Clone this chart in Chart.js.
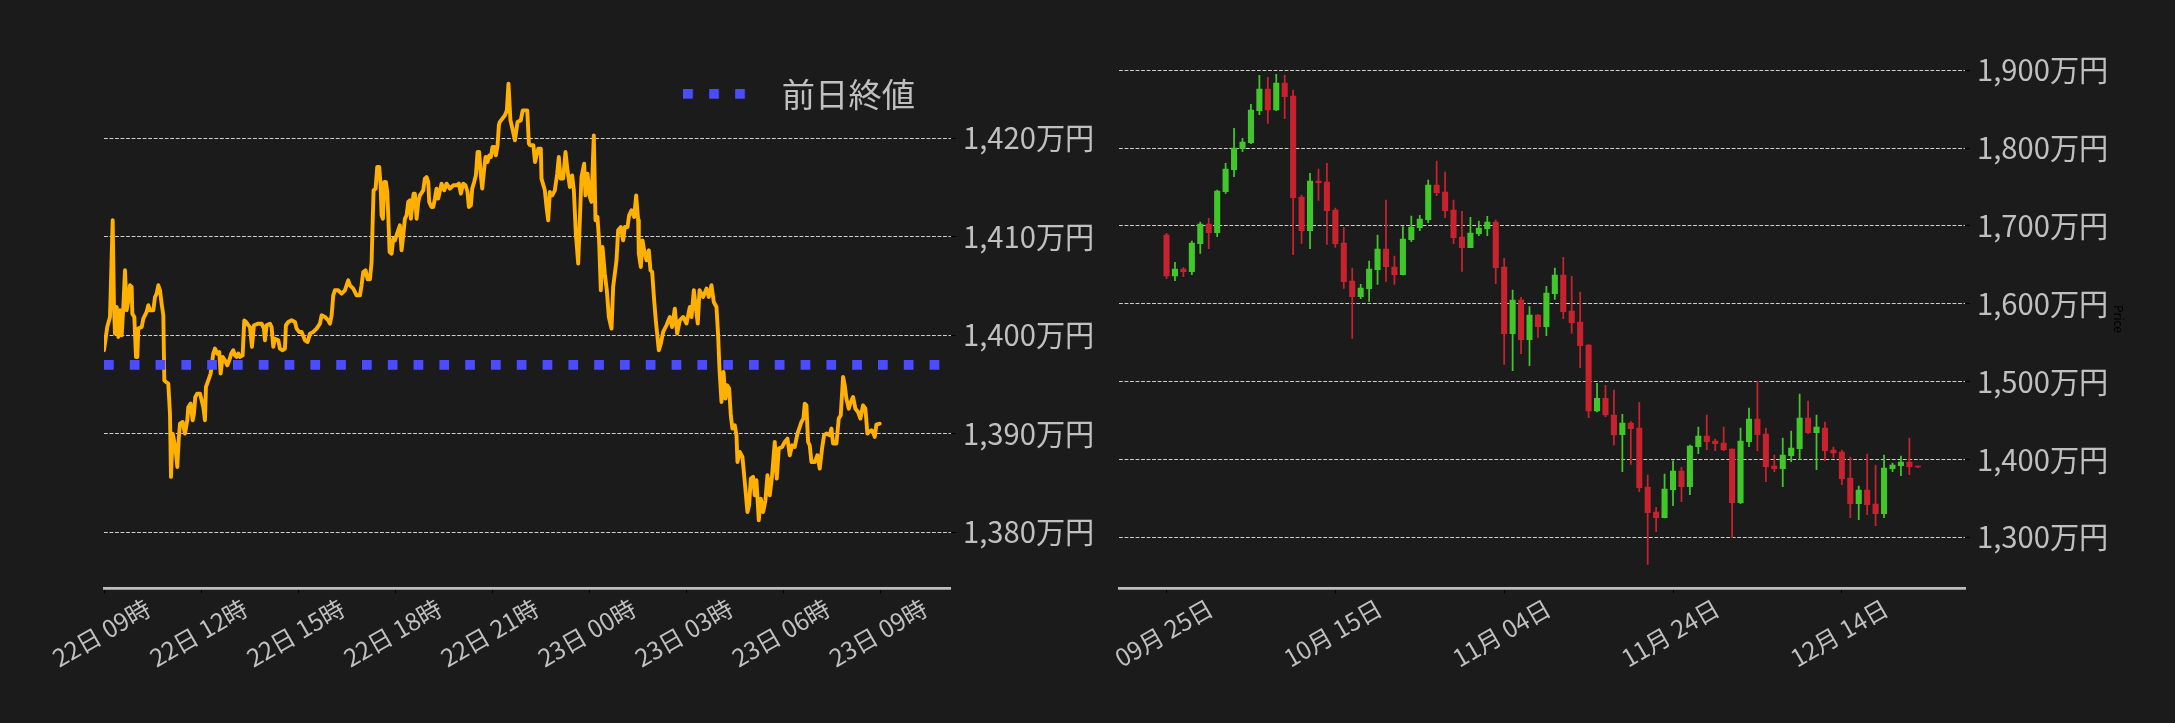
<!DOCTYPE html>
<html><head><meta charset="utf-8">
<script src="https://cdn.jsdelivr.net/npm/chart.js@4"></script>
<style>
html,body{margin:0;padding:0;background:#1b1b1b;overflow:hidden;}
#wrap{position:relative;width:2175px;height:723px;background:#1b1b1b;}
#left{position:absolute;left:0;top:0;}
#right{position:absolute;left:1100px;top:0;}
</style></head><body>
<div id="wrap"><canvas id="left" width="1100" height="723"></canvas><canvas id="right" width="1075" height="723"></canvas></div>
<script>
// ---------- intraday data (hours after 22日 09:00, price in 万円) ----------
const hours = [0.000,0.100,0.185,0.268,0.309,0.340,0.392,0.443,0.494,0.546,0.597,0.649,0.700,0.752,0.803,0.855,0.875,0.937,0.989,1.030,1.060,1.164,1.215,1.318,1.370,1.421,1.524,1.576,1.627,1.679,1.730,1.781,1.833,1.864,1.915,1.987,2.039,2.070,2.122,2.163,2.224,2.266,2.307,2.348,2.431,2.502,2.574,2.605,2.677,2.739,2.780,2.821,2.883,2.966,3.017,3.069,3.120,3.151,3.223,3.295,3.377,3.429,3.500,3.562,3.604,3.666,3.738,3.810,3.872,3.933,3.995,4.047,4.098,4.150,4.201,4.284,4.335,4.387,4.459,4.510,4.572,4.634,4.768,4.871,4.943,4.974,5.025,5.128,5.180,5.231,5.283,5.386,5.437,5.520,5.592,5.622,5.694,5.797,5.901,5.952,6.035,6.107,6.210,6.292,6.364,6.467,6.570,6.673,6.725,6.827,6.930,6.982,7.034,7.085,7.136,7.239,7.342,7.445,7.548,7.600,7.703,7.806,7.909,7.960,8.012,8.084,8.146,8.218,8.270,8.300,8.331,8.393,8.444,8.506,8.547,8.578,8.619,8.660,8.712,8.753,8.784,8.826,8.888,8.939,8.990,9.073,9.144,9.196,9.248,9.299,9.351,9.402,9.453,9.484,9.526,9.567,9.608,9.660,9.711,9.762,9.865,9.917,9.968,10.020,10.050,10.120,10.175,10.226,10.277,10.328,10.432,10.514,10.586,10.689,10.792,10.895,10.967,11.029,11.100,11.172,11.234,11.276,11.338,11.379,11.440,11.492,11.544,11.595,11.636,11.688,11.750,11.791,11.853,11.904,11.956,12.007,12.058,12.110,12.162,12.203,12.230,12.390,12.450,12.500,12.560,12.610,12.700,12.780,12.880,12.940,13.080,13.130,13.170,13.270,13.320,13.420,13.500,13.520,13.624,13.676,13.727,13.779,13.851,13.933,14.005,14.056,14.108,14.190,14.262,14.324,14.396,14.468,14.520,14.582,14.654,14.705,14.756,14.839,14.880,14.942,15.014,15.065,15.137,15.189,15.251,15.302,15.354,15.405,15.477,15.539,15.601,15.684,15.735,15.786,15.838,15.889,15.972,16.044,16.095,16.178,16.229,16.301,16.384,16.446,16.508,16.528,16.590,16.642,16.693,16.765,16.837,16.889,16.940,17.002,17.053,17.094,17.146,17.208,17.280,17.383,17.486,17.558,17.640,17.712,17.795,17.898,18.001,18.104,18.156,18.228,18.310,18.350,18.403,18.514,18.619,18.690,18.773,18.844,18.928,18.979,19.020,19.083,19.145,19.206,19.258,19.320,19.370,19.420,19.494,19.546,19.576,19.648,19.730,19.802,19.885,19.936,19.988,20.060,20.111,20.163,20.235,20.297,20.369,20.441,20.503,20.575,20.647,20.729,20.791,20.853,20.956,21.038,21.121,21.193,21.265,21.347,21.430,21.502,21.553,21.615,21.656,21.707,21.759,21.810,21.862,21.965,22.047,22.119,22.191,22.253,22.326,22.428,22.480,22.531,22.634,22.706,22.768,22.840,22.892,22.943,23.015,23.077,23.148,23.221,23.303,23.376,23.457,23.530,23.592,23.642,23.715,23.766,23.818,23.870,23.972];
const prices = [1398.48,1400.84,1401.86,1411.68,1402.87,1400.17,1402.87,1399.83,1402.54,1400.00,1402.87,1406.60,1402.54,1403.55,1405.08,1404.91,1402.20,1401.86,1397.80,1397.80,1400.68,1400.84,1401.69,1402.37,1403.05,1402.54,1402.54,1403.89,1404.23,1405.08,1404.57,1403.21,1402.03,1395.43,1395.26,1395.09,1392.05,1385.62,1390.02,1389.34,1387.99,1386.63,1389.34,1391.03,1391.20,1390.02,1391.37,1392.72,1393.06,1391.37,1392.05,1393.74,1394.08,1394.08,1393.40,1392.72,1391.37,1394.75,1395.43,1396.11,1398.14,1398.65,1398.14,1398.31,1396.11,1397.80,1397.46,1396.95,1397.46,1398.14,1398.48,1397.97,1397.80,1398.14,1397.80,1397.97,1401.52,1401.35,1401.02,1400.84,1398.82,1401.02,1401.18,1401.18,1400.68,1399.49,1401.02,1401.18,1400.84,1398.82,1399.66,1399.49,1398.65,1398.48,1398.65,1401.02,1401.35,1401.52,1401.35,1400.68,1400.34,1400.34,1399.49,1399.32,1400.17,1400.34,1400.68,1401.18,1402.03,1401.86,1401.52,1401.18,1402.03,1404.06,1404.57,1404.57,1404.23,1404.57,1405.58,1405.08,1404.74,1404.06,1404.06,1405.08,1406.43,1406.60,1405.69,1405.69,1407.44,1411.17,1414.72,1414.89,1417.09,1417.09,1415.23,1412.18,1411.84,1415.57,1415.57,1414.55,1412.18,1408.46,1408.29,1409.81,1409.64,1410.49,1411.17,1408.63,1410.15,1411.84,1412.18,1413.54,1413.71,1411.84,1413.20,1414.38,1414.38,1411.84,1413.54,1414.21,1414.72,1415.91,1416.07,1415.57,1413.54,1413.03,1413.03,1413.88,1414.89,1413.88,1415.40,1414.72,1415.40,1414.89,1415.23,1415.23,1415.40,1414.38,1415.40,1415.23,1414.55,1413.03,1413.20,1414.89,1415.57,1416.24,1418.61,1418.61,1416.58,1414.89,1416.92,1418.10,1417.60,1418.27,1418.10,1419.12,1419.12,1418.27,1419.29,1421.32,1421.65,1422.34,1422.84,1425.55,1421.83,1421.15,1419.80,1421.65,1421.83,1422.84,1422.84,1419.46,1419.29,1419.29,1417.60,1418.95,1418.95,1415.91,1414.72,1413.03,1411.68,1414.55,1414.21,1414.72,1416.41,1418.10,1415.91,1415.91,1418.61,1416.75,1415.06,1416.24,1414.72,1410.32,1407.28,1411.68,1416.07,1417.43,1414.21,1416.41,1414.04,1413.54,1420.30,1411.68,1412.01,1409.47,1404.57,1408.96,1406.26,1404.57,1401.86,1400.68,1404.91,1406.26,1407.61,1410.66,1410.99,1409.64,1410.99,1410.99,1412.18,1412.69,1412.01,1414.21,1411.68,1408.29,1406.94,1409.64,1408.63,1407.61,1408.63,1406.60,1406.43,1403.55,1401.52,1400.17,1398.48,1399.15,1400.34,1401.02,1401.86,1400.84,1402.71,1400.17,1401.52,1401.86,1401.19,1402.87,1401.86,1404.57,1402.20,1401.19,1404.57,1403.89,1404.74,1403.89,1405.08,1403.38,1402.87,1400.00,1396.62,1393.23,1396.28,1393.57,1394.92,1394.59,1391.88,1390.53,1390.86,1389.85,1387.14,1388.15,1387.64,1385.11,1382.06,1382.74,1385.45,1385.62,1383.76,1385.28,1381.22,1383.42,1382.06,1383.25,1385.79,1383.76,1385.79,1389.17,1385.45,1388.50,1388.66,1389.17,1389.51,1387.82,1388.83,1388.66,1390.02,1390.69,1391.20,1391.54,1393.06,1392.89,1389.17,1388.83,1387.14,1387.14,1387.82,1386.47,1388.50,1389.85,1390.02,1389.85,1390.53,1389.00,1389.00,1391.54,1391.88,1395.77,1394.92,1393.57,1392.55,1393.23,1393.74,1392.55,1392.21,1391.54,1392.89,1392.55,1390.02,1390.19,1390.36,1390.19,1389.68,1390.93,1391.03];
const prevClose = 1397.0;
const timeTickHours = [0, 3, 6, 9, 12, 15, 18, 21, 24];
const timeTickLabels = ['22日 09時','22日 12時','22日 15時','22日 18時','22日 21時','23日 00時','23日 03時','23日 06時','23日 09時'];
const leftPriceTicks = [1380, 1390, 1400, 1410, 1420];

// ---------- daily candles (index 0 = 09月25日), 万円 ----------
const opens  = [1688.4,1635.7,1644.7,1641.3,1677.3,1702.5,1691.4,1744.1,1772.3,1799.3,1807.0,1848.1,1876.0,1849.0,1883.7,1867.0,1737.2,1694.0,1757.8,1756.5,1720.5,1678.1,1629.3,1609.2,1619.4,1643.8,1670.4,1647.3,1637.4,1682.4,1697.8,1708.1,1752.6,1743.6,1720.5,1685.8,1672.1,1690.1,1696.5,1705.1,1647.3,1561.6,1604.9,1553.9,1585.6,1570.6,1613.0,1637.0,1590.7,1576.6,1547.0,1462.3,1478.6,1457.1,1431.9,1446.8,1440.4,1364.6,1332.5,1325.2,1361.2,1385.2,1365.0,1416.4,1430.1,1423.7,1421.1,1413.4,1344.5,1422.9,1452.0,1432.7,1391.6,1388.2,1404.9,1413.9,1453.3,1434.4,1440.4,1412.1,1409.6,1376.2,1343.2,1360.8,1342.8,1330.3,1388.2,1392.0,1396.7,1391.6];
const highs  = [1690.5,1653.3,1646.4,1680.7,1705.1,1709.8,1746.2,1780.5,1825.4,1812.6,1856.3,1893.5,1891.0,1894.8,1893.5,1874.7,1739.8,1767.6,1773.2,1780.5,1723.1,1697.8,1646.0,1625.0,1655.0,1688.4,1733.4,1661.4,1699.1,1712.8,1713.7,1759.1,1783.5,1769.3,1733.4,1718.8,1711.1,1706.4,1712.4,1707.7,1658.4,1617.7,1608.3,1596.3,1586.0,1622.4,1646.0,1659.7,1635.3,1615.2,1547.5,1497.8,1495.3,1489.2,1458.0,1448.6,1473.4,1380.0,1338.5,1381.3,1398.4,1389.9,1418.6,1441.7,1457.1,1426.3,1441.7,1413.6,1440.4,1466.1,1500.4,1440.4,1405.7,1427.6,1436.6,1484.0,1475.1,1457.1,1448.1,1416.0,1412.2,1403.2,1365.9,1407.0,1392.9,1405.7,1395.4,1404.4,1427.6,1391.6];
const lows   = [1632.3,1629.7,1634.9,1637.4,1664.8,1670.8,1686.2,1741.9,1763.3,1795.5,1805.7,1843.0,1831.9,1848.0,1837.9,1663.1,1677.7,1670.8,1732.9,1676.4,1672.5,1619.9,1555.6,1606.6,1603.2,1625.0,1628.9,1625.0,1637.0,1679.8,1694.0,1704.2,1738.9,1710.7,1677.3,1641.7,1672.1,1687.5,1687.5,1625.9,1522.2,1514.1,1535.9,1520.5,1556.9,1559.0,1605.7,1580.9,1562.0,1517.9,1453.6,1461.0,1454.9,1418.6,1384.3,1393.7,1358.6,1265.3,1307.2,1325.0,1340.6,1345.8,1354.8,1407.4,1412.6,1411.3,1411.3,1299.5,1343.2,1416.4,1411.3,1371.5,1384.3,1365.0,1397.2,1400.2,1433.1,1386.9,1398.4,1402.3,1367.6,1325.2,1322.6,1329.1,1314.9,1325.2,1384.3,1379.2,1380.5,1389.4];
const closes = [1635.7,1644.7,1641.3,1678.1,1702.5,1691.4,1744.9,1773.2,1800.2,1807.9,1849.0,1876.0,1849.0,1883.7,1866.1,1736.4,1694.0,1757.8,1755.6,1719.6,1677.3,1628.4,1609.2,1620.3,1644.7,1670.4,1647.7,1637.4,1683.3,1698.7,1708.9,1752.6,1742.8,1719.6,1685.0,1672.1,1691.0,1697.4,1705.1,1646.4,1561.6,1604.9,1553.9,1585.6,1570.6,1613.9,1637.0,1589.9,1575.8,1546.2,1462.3,1478.6,1457.1,1431.4,1446.8,1439.6,1363.8,1331.6,1325.2,1362.0,1385.2,1365.0,1417.3,1430.1,1422.9,1420.3,1412.6,1344.5,1423.7,1452.0,1431.9,1390.7,1388.2,1405.7,1414.7,1453.3,1434.4,1441.7,1411.3,1408.3,1375.3,1343.2,1360.8,1341.9,1330.3,1389.0,1392.9,1396.7,1390.7,1390.3];
const dayTickIndex  = [0, 20, 40, 60, 80];
const dayTickLabels = ['09月 25日','10月 15日','11月 04日','11月 24日','12月 14日'];
const rightPriceTicks = [1300, 1400, 1500, 1600, 1700, 1800, 1900];

// ---------- styles ----------
const TEXT = '#c0c0c0', GRID = '#cfcfcf', AXIS = '#bebebe';
const ORANGE = '#ffb000', BLUE = '#4b4bff', GREEN = '#40c82a', RED = '#c9222f';
Chart.defaults.font.family = '"Noto Sans CJK JP", "Noto Sans", sans-serif';
const fmtPrice = v => Number(v).toLocaleString('en-US') + '万円';

// legend handle: three square dots
const legendImg = document.createElement('canvas');
legendImg.width = 82; legendImg.height = 10;
(() => { const g = legendImg.getContext('2d'); g.fillStyle = BLUE; [0, 26, 52].forEach(x0 => g.fillRect(x0, 0, 9.7, 9.7)); })();

// let the legend (which takes ~no layout space) draw inside the plot area
const legendInside = { id: 'legendInside', afterLayout(chart) {
  const lg = chart.legend; if (lg) { lg.bottom = lg.top + 120; lg.height = 120; } } };

const xAxisCommon = (height, labels) => ({
  type: 'linear', offset: false,
  afterFit: s => { s.height = height; s.paddingLeft = 0; s.paddingRight = 0; },
  ticks: { autoSkip: false, minRotation: 30, maxRotation: 30, padding: 0, labelOffset: 44.2, color: TEXT, font: { size: 24.3 },
    callback: (v, i) => labels[i] },
  grid: { display: true, offset: false, drawOnChartArea: false, drawTicks: true, tickLength: 5, tickColor: '#000' },
  border: { display: true, color: AXIS, width: 2.7 }
});
const yAxisCommon = (width, pad) => ({
  type: 'linear', position: 'right', beginAtZero: false,
  afterFit: s => { s.width = width; s.paddingTop = 0; s.paddingBottom = 0; },
  ticks: { padding: pad, color: TEXT, font: { size: 29.2 }, callback: v => fmtPrice(v) },
  grid: { color: GRID, lineWidth: 1, drawTicks: true, tickLength: 5, tickColor: '#000' },
  border: { display: false, dash: [3.85, 1.67] }
});

// ---------- left: intraday line ----------
const X_MAX_H = 26.16;
new Chart(document.getElementById('left'), {
  type: 'line',
  data: { datasets: [
    { label: '前日終値', data: [{ x: 0, y: prevClose }, { x: X_MAX_H, y: prevClose }],
      borderColor: BLUE, backgroundColor: BLUE, borderWidth: 9.7, borderDash: [9.7, 16.1], borderCapStyle: 'butt', pointRadius: 0, fill: false },
    { label: '価格', data: hours.map((h, i) => ({ x: h, y: prices[i] })),
      borderColor: ORANGE, borderWidth: 3.9, pointRadius: 0, borderJoinStyle: 'round', borderCapStyle: 'round', tension: 0, fill: false }
  ]},
  options: {
    responsive: false, animation: false, events: [],
    layout: { padding: { left: 104, top: 41.85, right: 0, bottom: 0 } },
    plugins: {
      tooltip: { enabled: false },
      legend: { display: true, position: 'top', align: 'end', fullSize: false, maxHeight: 7.65,
        labels: { usePointStyle: true, pointStyleWidth: 82, padding: 35.5, color: TEXT, font: { size: 33.3 },
          generateLabels: chart => Chart.defaults.plugins.legend.labels.generateLabels(chart)
            .filter(l => l.datasetIndex === 0).map(l => Object.assign(l, { pointStyle: legendImg })) } }
    },
    scales: {
      x: Object.assign(xAxisCommon(134.7, timeTickLabels), { min: 0, max: X_MAX_H,
        afterBuildTicks: s => { s.ticks = timeTickHours.map(v => ({ value: v })); } }),
      y: Object.assign(yAxisCommon(149.5, 7.5), { min: 1374.31, max: 1429.02,
        afterBuildTicks: s => { s.ticks = leftPriceTicks.map(v => ({ value: v })); } })
    }
  },
  plugins: [legendInside]
});

// ---------- right: daily candles ----------
const candleColors = closes.map((c, i) => c >= opens[i] ? GREEN : RED);
const rightX = Object.assign(xAxisCommon(134.7, dayTickLabels), { min: -5.63, max: 94.59,
  afterBuildTicks: s => { s.ticks = dayTickIndex.map(v => ({ value: v })); } });
const rightY = Object.assign(yAxisCommon(210, 7), { min: 1234.47, max: 1926.72,
  afterBuildTicks: s => { s.ticks = rightPriceTicks.map(v => ({ value: v })); } });
rightY.title = { display: true, text: 'Price', color: '#000', font: { size: 12 }, padding: { top: 48.8, bottom: 0 } };
new Chart(document.getElementById('right'), {
  type: 'bar',
  data: { datasets: [
    { label: 'body', data: opens.map((o, i) => ({ x: i, y: [o, closes[i]] })), backgroundColor: candleColors, barThickness: 5.4, grouped: false, borderWidth: 0 },
    { label: 'wick', data: lows.map((l, i) => ({ x: i, y: [l, highs[i]] })), backgroundColor: candleColors, barThickness: 1.1, grouped: false, borderWidth: 0 }
  ]},
  options: {
    responsive: false, animation: false, events: [],
    layout: { padding: { left: 19, top: 49.5, right: 0, bottom: 0 } },
    plugins: { legend: { display: false }, tooltip: { enabled: false } },
    scales: { x: rightX, y: rightY }
  }
});
</script>
</body></html>
